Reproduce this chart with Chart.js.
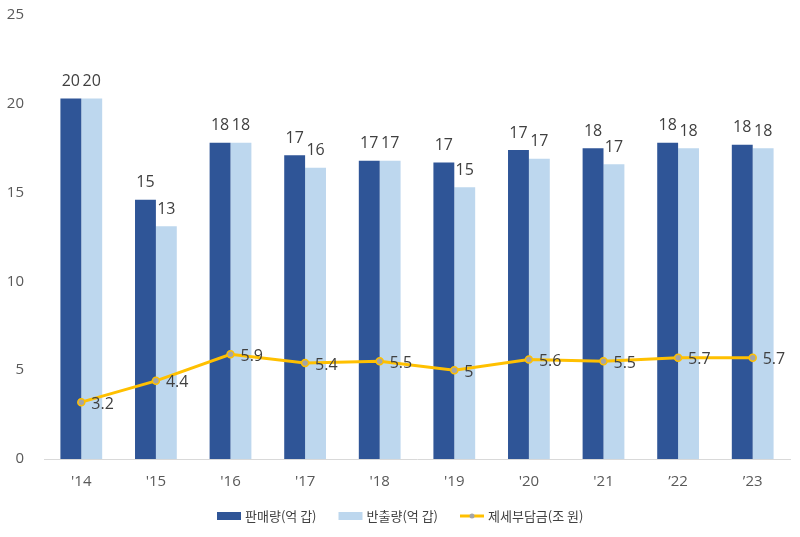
<!DOCTYPE html>
<html>
<head>
<meta charset="utf-8">
<script src="https://cdn.jsdelivr.net/npm/chart.js"></script>
<style>
  html, body { margin: 0; padding: 0; background: #fff; }
  #wrap { width: 800px; height: 537px; }
</style>
</head>
<body>
<div id="wrap"><canvas id="taxChart" width="800" height="537"></canvas></div>
<script>
// data
const years = ["'14", "'15", "'16", "'17", "'18", "'19", "'20", "'21", "\u201922", "\u201923"];
const sales = [20.3, 14.6, 17.8, 17.1, 16.8, 16.7, 17.4, 17.5, 17.8, 17.7];    // 판매량(억 갑)
const shipped = [20.3, 13.1, 17.8, 16.4, 16.8, 15.3, 16.9, 16.6, 17.5, 17.5];  // 반출량(억 갑)
const taxBurden = [3.2, 4.4, 5.9, 5.4, 5.5, 5, 5.6, 5.5, 5.7, 5.7];             // 제세부담금(조 원)

const numFont = "'Segoe UI', 'Open Sans', 'Noto Sans', sans-serif";
const krFont = "'Noto Sans CJK KR', 'Noto Sans', sans-serif";

// value labels above bars / right of line points
const valueLabels = {
    id: 'valueLabels',
    afterDatasetsDraw(chart) {
        const ctx = chart.ctx;
        ctx.save();
        ctx.fillStyle = '#404040';
        ctx.font = '16px ' + numFont;
        chart.data.datasets.forEach((ds, i) => {
            const meta = chart.getDatasetMeta(i);
            meta.data.forEach((el, j) => {
                const v = ds.data[j];
                if (ds.type === 'line') {
                    ctx.textAlign = 'left';
                    ctx.textBaseline = 'middle';
                    ctx.fillText(String(v), el.x + 10, el.y + 2);
                } else {
                    ctx.textAlign = 'center';
                    ctx.textBaseline = 'bottom';
                    ctx.fillText(String(Math.round(v)), el.x, el.y - 9);
                }
            });
        });
        ctx.restore();
    }
};

// legend at the bottom
const bottomLegend = {
    id: 'bottomLegend',
    afterDraw(chart) {
        const ctx = chart.ctx;
        const y = 516;
        ctx.save();
        ctx.font = '13px ' + krFont;
        ctx.textBaseline = 'middle';
        const items = chart.data.datasets.map(ds => ({
            label: ds.label,
            line: ds.type === 'line',
            color: ds.type === 'line' ? ds.borderColor : ds.backgroundColor,
            point: ds.pointBackgroundColor
        }));
        const sym = 24, gap = 4, itemGap = 22;
        let total = 0;
        items.forEach((it, k) => {
            it.w = ctx.measureText(it.label).width;
            total += sym + gap + it.w + (k < items.length - 1 ? itemGap : 0);
        });
        let x = Math.round(chart.width / 2 - total / 2);
        items.forEach(it => {
            if (it.line) {
                ctx.strokeStyle = it.color;
                ctx.lineWidth = 3;
                ctx.beginPath();
                ctx.moveTo(x, y);
                ctx.lineTo(x + sym, y);
                ctx.stroke();
                ctx.fillStyle = it.point;
                ctx.beginPath();
                ctx.arc(x + sym / 2, y, 2.5, 0, Math.PI * 2);
                ctx.fill();
            } else {
                ctx.fillStyle = it.color;
                ctx.fillRect(x, y - 4, sym, 8);
            }
            ctx.fillStyle = '#404040';
            ctx.textAlign = 'left';
            ctx.fillText(it.label, x + sym + gap, y);
            x += sym + gap + it.w + itemGap;
        });
        ctx.restore();
    }
};

new Chart(document.getElementById('taxChart'), {
    data: {
        labels: years,
        datasets: [
            {
                type: 'bar',
                label: '판매량(억 갑)',
                data: sales,
                backgroundColor: '#2F5597',
                categoryPercentage: 0.56,
                barPercentage: 1,
                order: 1
            },
            {
                type: 'bar',
                label: '반출량(억 갑)',
                data: shipped,
                backgroundColor: '#BDD7EE',
                categoryPercentage: 0.56,
                barPercentage: 1,
                order: 1
            },
            {
                type: 'line',
                label: '제세부담금(조 원)',
                data: taxBurden,
                borderColor: '#FFC000',
                backgroundColor: '#FFC000',
                borderWidth: 3,
                pointRadius: 3.5,
                pointBackgroundColor: '#A5A5A5',
                pointBorderColor: '#FFC000',
                pointBorderWidth: 1.5,
                tension: 0,
                order: 0
            }
        ]
    },
    options: {
        responsive: false,
        animation: false,
        layout: { padding: { top: 15, right: 10, left: 0, bottom: 0 } },
        plugins: {
            legend: { display: false },
            tooltip: { enabled: false }
        },
        scales: {
            x: {
                grid: { display: false },
                border: { color: '#D9D9D9', width: 1 },
                ticks: {
                    color: '#595959',
                    font: { family: numFont, size: 15 },
                    padding: 6
                },
                afterFit(s) { s.height = 78; }
            },
            y: {
                min: 0,
                max: 25,
                grid: { display: false },
                border: { display: false },
                ticks: {
                    stepSize: 5,
                    color: '#595959',
                    font: { family: numFont, size: 15 },
                    padding: 12
                },
                afterFit(s) {
                    s.width = 44;
                    s.paddingTop = 0;
                    s.paddingBottom = 0;
                }
            }
        }
    },
    plugins: [valueLabels, bottomLegend]
});
</script>
</body>
</html>
